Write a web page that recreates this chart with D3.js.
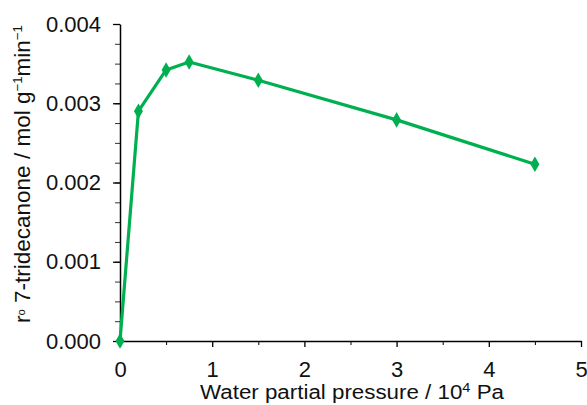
<!DOCTYPE html>
<html lang="en">
<head>
    <meta charset="UTF-8">
    <title>7-tridecanone rate vs water partial pressure</title>
    <script src="https://cdnjs.cloudflare.com/ajax/libs/d3/7.8.5/d3.min.js"></script>
    <style>
        body { margin: 0; background: #fff; }
        svg { display: block; font-family: "Liberation Sans", Arial, sans-serif; }
    </style>
</head>
<body>
    <svg id="chart" width="587" height="405"></svg>
    <script>
        // data
        const pressure = [0, 0.2, 0.5, 0.75, 1.5, 3, 4.5];
        const rate = [0, 0.0029, 0.00342, 0.00352, 0.00329, 0.00279, 0.00223];
        const xTicks = [0, 1, 2, 3, 4, 5];
        const yTicks = [0, 0.001, 0.002, 0.003, 0.004];

        const svg = d3.select("#chart");
        const margin = { left: 120, right: 6, top: 24, bottom: 64 };
        const width = 587, height = 405;
        const green = "#00b050";
        const font = "Liberation Sans, Arial, sans-serif";

        const x = d3.scaleLinear().domain([0, 5]).range([margin.left, width - margin.right]);
        const y = d3.scaleLinear().domain([0, 0.004]).range([height - margin.bottom, margin.top]);

        // minor ticks first
        svg.append("g")
            .attr("transform", `translate(0,${y(0)})`)
            .call(d3.axisBottom(x).tickValues(d3.range(0.5, 5, 1)).tickSize(4).tickFormat(""))
            .call(g => g.select(".domain").remove())
            .call(g => g.selectAll("line").attr("stroke", "#000"));
        svg.append("g")
            .attr("transform", `translate(${x(0)},0)`)
            .call(d3.axisLeft(y).tickValues(d3.range(0.00025, 0.004, 0.00025)).tickSize(5).tickFormat(""))
            .call(g => g.select(".domain").remove())
            .call(g => g.selectAll("line").attr("stroke", "#333"));

        // x axis
        const xAxis = svg.append("g")
            .attr("transform", `translate(0,${y(0)})`)
            .call(d3.axisBottom(x).tickValues(xTicks).tickSize(6).tickSizeOuter(0).tickPadding(14).tickFormat(d3.format("d")));
        xAxis.select(".domain").attr("stroke-width", 1.5);
        xAxis.selectAll("line").attr("stroke-width", 1.3);
        xAxis.selectAll("text").attr("font-size", 22).attr("fill", "#111").attr("font-family", font);

        // y axis
        const yAxis = svg.append("g")
            .attr("transform", `translate(${x(0)},0)`)
            .call(d3.axisLeft(y).tickValues(yTicks).tickSize(7).tickSizeOuter(0).tickPadding(12).tickFormat(d3.format(".3f")));
        yAxis.select(".domain").attr("stroke-width", 1.5);
        yAxis.selectAll("line").attr("stroke-width", 1.3);
        yAxis.selectAll("text").attr("font-size", 22).attr("fill", "#111").attr("font-family", font);

        // line + markers
        const pts = pressure.map((p, i) => [p, rate[i]]);
        svg.append("path")
            .datum(pts)
            .attr("fill", "none")
            .attr("stroke", green)
            .attr("stroke-width", 3.2)
            .attr("stroke-linejoin", "round")
            .attr("d", d3.line().x(d => x(d[0])).y(d => y(d[1])));

        svg.selectAll(".pt")
            .data(pts)
            .enter()
            .append("path")
            .attr("class", "pt")
            .attr("fill", green)
            .attr("transform", d => `translate(${x(d[0])},${y(d[1])})`)
            .attr("d", d3.symbol().type(d3.symbolDiamond).size(70));

        // axis titles
        const xt = svg.append("text")
            .attr("x", 352)
            .attr("y", 399)
            .attr("text-anchor", "middle")
            .attr("font-size", 20)
            .attr("textLength", 304)
            .attr("lengthAdjust", "spacingAndGlyphs")
            .attr("fill", "#111");
        xt.append("tspan").text("Water partial pressure / 10");
        xt.append("tspan").attr("dy", -7).attr("font-size", 13).text("4");
        xt.append("tspan").attr("dy", 7).text(" Pa");

        const yt = svg.append("text")
            .attr("transform", `translate(30,174) rotate(-90)`)
            .attr("text-anchor", "middle")
            .attr("font-size", 22)
            .attr("textLength", 298)
            .attr("lengthAdjust", "spacingAndGlyphs")
            .attr("fill", "#111");
        yt.append("tspan").text("r");
        yt.append("tspan").attr("dy", -5).attr("font-size", 11).text("o");
        yt.append("tspan").attr("dy", 5).text(" 7-tridecanone / mol g");
        yt.append("tspan").attr("dy", -8).attr("font-size", 13).text("\u22121");
        yt.append("tspan").attr("dy", 8).text("min");
        yt.append("tspan").attr("dy", -8).attr("font-size", 13).text("\u22121");
    </script>
</body>
</html>
